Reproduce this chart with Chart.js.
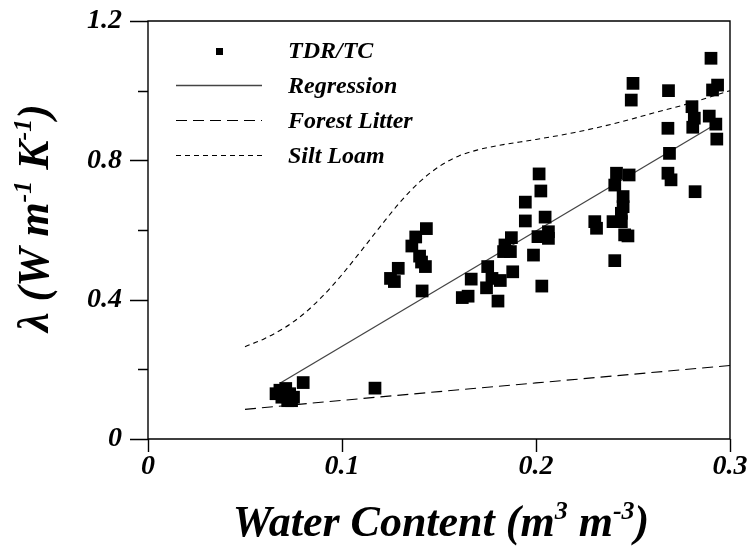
<!DOCTYPE html>
<html>
<head>
<meta charset="utf-8">
<script src="https://cdn.jsdelivr.net/npm/chart.js@4.4.1/dist/chart.umd.min.js"></script>
<style>
  html, body { margin: 0; padding: 0; background: #fff; }
  #wrap { width: 751px; height: 550px; }
</style>
</head>
<body>
<div id="wrap"><canvas id="chart" width="751" height="550"></canvas></div>
<script>
// measured points (TDR/TC)
const tdrWater = [
  0.066, 0.068, 0.069, 0.071, 0.072, 0.073, 0.075, 0.074, 0.080, 0.117,
  0.125, 0.127, 0.129, 0.136, 0.138, 0.1435, 0.140, 0.141, 0.143, 0.1413,
  0.162, 0.165, 0.1666, 0.1745, 0.1751, 0.1773, 0.1804, 0.1816, 0.1833, 0.184,
  0.1868, 0.1873, 0.188, 0.1945, 0.1945, 0.1987, 0.201, 0.2016, 0.2025, 0.203,
  0.2047, 0.2064, 0.2064,
  0.2303, 0.2312, 0.2397, 0.2406, 0.2406, 0.244, 0.244, 0.2449, 0.2449, 0.2415,
  0.2457, 0.2474, 0.248, 0.2491, 0.25,
  0.268, 0.2696, 0.2688, 0.268, 0.2683, 0.2804, 0.2816, 0.2808, 0.282, 0.2893,
  0.2902, 0.2927, 0.2932, 0.2936, 0.291
];
const tdrLambda = [
  0.13, 0.14, 0.12, 0.145, 0.11, 0.13, 0.12, 0.11, 0.162, 0.146,
  0.461, 0.452, 0.49, 0.554, 0.58, 0.604, 0.525, 0.508, 0.495, 0.425,
  0.406, 0.41, 0.459, 0.434, 0.495, 0.461, 0.396, 0.455, 0.538, 0.557,
  0.538, 0.578, 0.48, 0.626, 0.68, 0.528, 0.581, 0.761, 0.712, 0.439,
  0.637, 0.595, 0.576,
  0.624, 0.605, 0.624, 0.729, 0.512, 0.624, 0.648, 0.667, 0.696, 0.763,
  0.586, 0.583, 0.758, 0.973, 1.021,
  0.763, 0.744, 0.82, 0.892, 1.0, 0.954, 0.921, 0.895, 0.71, 0.927,
  1.093, 0.904, 0.861, 1.016, 1.002
];

const regressionWater = [0.068, 0.29];
const regressionLambda = [0.16, 0.895];

const forestWater = [0.05, 0.10, 0.15, 0.20, 0.25, 0.30];
const forestLambda = [0.085, 0.111, 0.136, 0.161, 0.186, 0.211];

const siltWater = [0.05, 0.06, 0.07, 0.08, 0.09, 0.10, 0.11, 0.12, 0.13, 0.14,
  0.15, 0.16, 0.17, 0.18, 0.20, 0.22, 0.24, 0.26, 0.28, 0.30];
const siltLambda = [0.265, 0.288, 0.318, 0.358, 0.41, 0.472, 0.541, 0.612, 0.68, 0.738,
  0.782, 0.812, 0.83, 0.842, 0.86, 0.88, 0.905, 0.935, 0.965, 1.0];

const xTickLabels = ['0', '0.1', '0.2', '0.3'];
const yTickLabels = ['0', '0.4', '0.8', '1.2'];
const legendLabels = ['TDR/TC', 'Regression', 'Forest Litter', 'Silt Loam'];

const FONT = "'Liberation Serif', 'Times New Roman', serif";
const pts = (xs, ys) => xs.map((x, i) => ({ x: x, y: ys[i] }));

// title text with superscripts
function drawRich(ctx, parts, size) {
  const big = `italic bold ${size}px ${FONT}`;
  const small = `italic bold ${Math.round(size * 0.6)}px ${FONT}`;
  let total = 0;
  parts.forEach(p => { ctx.font = p.sup ? small : big; total += ctx.measureText(p.t).width; });
  let x = -total / 2;
  ctx.textBaseline = 'middle';
  ctx.textAlign = 'left';
  parts.forEach(p => {
    ctx.font = p.sup ? small : big;
    ctx.fillText(p.t, x, p.sup ? -size * 0.3 : 0);
    x += ctx.measureText(p.t).width;
  });
}

const framePlugin = {
  id: 'frame',
  afterDraw(chart) {
    const { ctx, chartArea: a, scales } = chart;
    const xs = scales.x, ys = scales.y;
    ctx.save();
    ctx.strokeStyle = '#000';
    ctx.lineWidth = 1.4;
    ctx.beginPath();
    ctx.rect(a.left, a.top, a.right - a.left, a.bottom - a.top);
    // y ticks, major every 0.4, minor between
    for (let v = 0; v <= 1.2001; v += 0.2) {
      const py = Math.round(ys.getPixelForValue(v)) + 0.5;
      const major = Math.round(v * 10) % 4 === 0;
      ctx.moveTo(a.left, py);
      ctx.lineTo(a.left - (major ? 18 : 10), py);
    }
    for (let v = 0; v <= 0.3001; v += 0.1) {
      const px = Math.round(xs.getPixelForValue(v)) + 0.5;
      ctx.moveTo(px, a.bottom);
      ctx.lineTo(px, a.bottom + 13);
    }
    ctx.stroke();

    // axis titles
    ctx.fillStyle = '#000';
    ctx.save();
    ctx.translate(441, 525);
    drawRich(ctx, [{ t: 'Water Content (m' }, { t: '3', sup: true }, { t: ' m' }, { t: '-3', sup: true }, { t: ')' }], 44);
    ctx.restore();
    ctx.save();
    ctx.translate(37, 218);
    ctx.rotate(-Math.PI / 2);
    drawRich(ctx, [{ t: '\u03bb (W m' }, { t: '-1', sup: true }, { t: ' K' }, { t: '-1', sup: true }, { t: ')' }], 44);
    ctx.restore();

    // legend
    const rows = [52, 87, 122, 157];
    const ds = chart.data.datasets;
    ctx.font = `italic bold 24px ${FONT}`;
    ctx.textBaseline = 'middle';
    ctx.textAlign = 'left';
    rows.forEach((y, i) => {
      const d = ds[i];
      if (i === 0) {
        ctx.fillStyle = d.backgroundColor;
        ctx.fillRect(216, y - 4, 7, 7);
      } else {
        ctx.beginPath();
        ctx.strokeStyle = d.borderColor;
        ctx.lineWidth = d.borderWidth;
        ctx.setLineDash(d.borderDash || []);
        ctx.moveTo(176, y - 1.5);
        ctx.lineTo(262, y - 1.5);
        ctx.stroke();
        ctx.setLineDash([]);
      }
      ctx.fillStyle = '#000';
      ctx.fillText(legendLabels[i], 288, y);
    });
    ctx.restore();
  }
};

const tickFont = { family: FONT, size: 28, style: 'italic', weight: 'bold' };

new Chart(document.getElementById('chart'), {
  type: 'scatter',
  data: {
    datasets: [
      {
        label: legendLabels[0], data: pts(tdrWater, tdrLambda),
        pointStyle: 'rect', pointRadius: 9, pointBorderWidth: 0,
        backgroundColor: '#000', borderColor: '#000'
      },
      {
        label: legendLabels[1], data: pts(regressionWater, regressionLambda),
        showLine: true, pointRadius: 0, borderColor: '#444', borderWidth: 1.3
      },
      {
        label: legendLabels[2], data: pts(forestWater, forestLambda),
        showLine: true, pointRadius: 0, borderColor: '#000', borderWidth: 1.1,
        borderDash: [11, 6]
      },
      {
        label: legendLabels[3], data: pts(siltWater, siltLambda),
        showLine: true, pointRadius: 0, borderColor: '#000', borderWidth: 1.1,
        borderDash: [5, 4], cubicInterpolationMode: 'monotone'
      }
    ]
  },
  options: {
    responsive: false,
    animation: false,
    layout: { padding: { top: 21, right: 21, left: 0, bottom: 0 } },
    plugins: { legend: { display: false }, tooltip: { enabled: false } },
    scales: {
      x: {
        type: 'linear', min: 0, max: 0.3,
        grid: { display: false, drawTicks: false }, border: { display: false },
        afterFit(s) { s.height = 111; s.paddingLeft = 0; s.paddingRight = 0; },
        afterBuildTicks(s) { s.ticks = xTickLabels.map(Number).map(v => ({ value: v })); },
        ticks: {
          padding: 11, color: '#000', font: tickFont, maxRotation: 0,
          callback: v => xTickLabels.find(l => Math.abs(Number(l) - v) < 1e-6) || ''
        }
      },
      y: {
        type: 'linear', min: 0, max: 1.2,
        grid: { display: false, drawTicks: false }, border: { display: false },
        afterFit(s) { s.width = 148; s.paddingTop = 0; s.paddingBottom = 0; },
        afterBuildTicks(s) { s.ticks = yTickLabels.map(Number).map(v => ({ value: v })); },
        ticks: {
          padding: 26, color: '#000', font: tickFont,
          callback: v => yTickLabels.find(l => Math.abs(Number(l) - v) < 1e-6) || ''
        }
      }
    }
  },
  plugins: [framePlugin]
});
</script>
</body>
</html>
